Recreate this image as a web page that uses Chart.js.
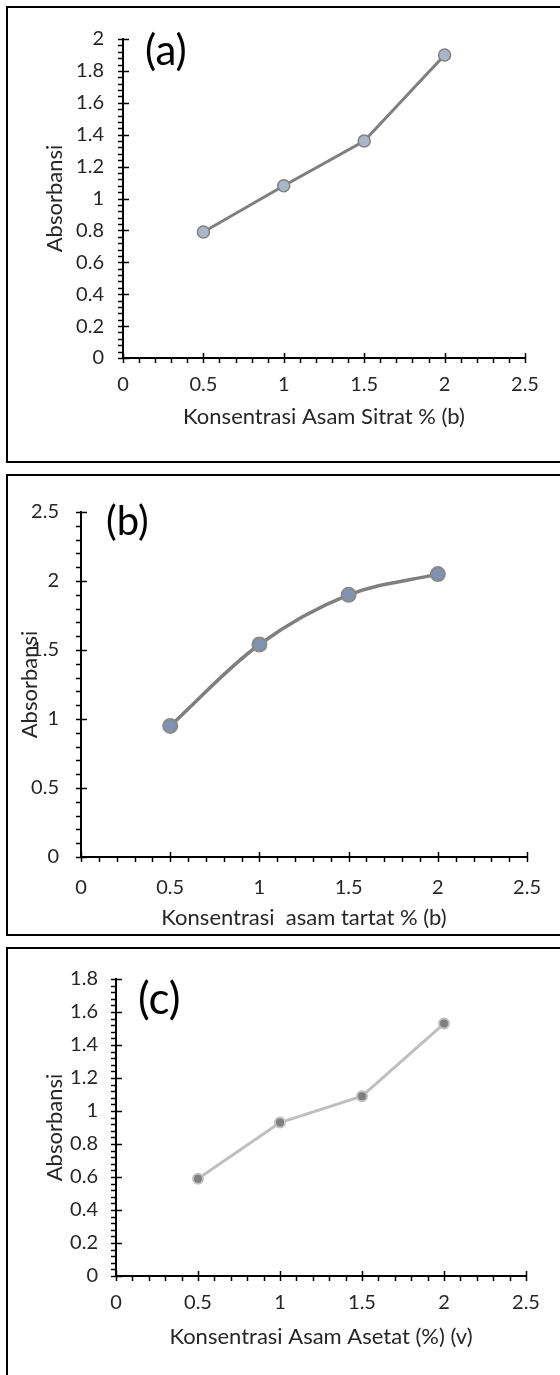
<!DOCTYPE html>
<html>
<head>
<meta charset="utf-8">
<script src="https://cdn.jsdelivr.net/npm/chart.js@4.4.1/dist/chart.umd.min.js"></script>
<style>
  html, body { margin: 0; padding: 0; background: #fff; }
  body { width: 560px; height: 1375px; position: relative; overflow: hidden; font-family: Lato, sans-serif; }
  .panel { position: absolute; left: 6px; width: 600px; border: 2px solid #000; box-sizing: border-box; }
  .plot { position: absolute; left: 0; width: 560px; }
  .tag { position: absolute; color: #000; line-height: 1; font-family: Lato, sans-serif; }
</style>
</head>
<body>

<div class="panel" style="top:6px; height:457px;"></div>
<div class="panel" style="top:474px; height:462px;"></div>
<div class="panel" style="top:947px; height:500px;"></div>

<div class="plot" style="top:8px; height:454px;"><canvas id="chartA"></canvas></div>
<div class="plot" style="top:476px; height:458px;"><canvas id="chartB"></canvas></div>
<div class="plot" style="top:949px; height:426px;"><canvas id="chartC"></canvas></div>

<div class="tag" style="left:145px; top:28px; font-size:42px;">(a)</div>
<div class="tag" style="left:106px; top:500px; font-size:40px;">(b)</div>
<div class="tag" style="left:138px; top:975px; font-size:44px;">(c)</div>

<script>
// concentrations (%)
const concentrations = [0.5, 1, 1.5, 2];

// absorbance readings
const absSitrat = [0.79, 1.08, 1.36, 1.90];
const absTartat = [0.95, 1.54, 1.90, 2.05];
const absAsetat = [0.59, 0.93, 1.09, 1.53];

const xTitleSitrat = "Konsentrasi Asam Sitrat % (b)";
const xTitleTartat = "Konsentrasi  asam tartat % (b)";
const xTitleAsetat = "Konsentrasi Asam Asetat (%) (v)";
const yTitle = "Absorbansi";

const TEXT = "#262626";

// excel-like tick marks: majors cross the axis, minors sit outside
const axisTicks = {
  id: "axisTicks",
  afterDraw(chart, args, opts) {
    const { ctx } = chart;
    const xs = chart.scales.x, ys = chart.scales.y;
    const x0 = xs.getPixelForValue(xs.min);
    const y0 = ys.getPixelForValue(ys.min);
    ctx.save();
    ctx.strokeStyle = "#000";
    ctx.lineWidth = 1.5;
    const isMajor = (v, step) => Math.abs(v / step - Math.round(v / step)) < 1e-6;

    const nx = Math.round((xs.max - xs.min) / opts.xMinor);
    for (let i = 0; i <= nx; i++) {
      const v = xs.min + i * opts.xMinor;
      const px = Math.round(xs.getPixelForValue(v)) + 0.5;
      const major = isMajor(v, opts.xMajor);
      ctx.beginPath();
      ctx.moveTo(px, major ? y0 - 5 : y0);
      ctx.lineTo(px, y0 + 5);
      ctx.stroke();
    }
    const ny = Math.round((ys.max - ys.min) / opts.yMinor);
    for (let i = 0; i <= ny; i++) {
      const v = ys.min + i * opts.yMinor;
      const py = Math.round(ys.getPixelForValue(v)) + 0.5;
      const major = isMajor(v, opts.yMajor);
      ctx.beginPath();
      ctx.moveTo(x0 - 5, py);
      ctx.lineTo(major ? x0 + 6 : x0, py);
      ctx.stroke();
    }
    ctx.restore();
  }
};

function fmt(v) {
  return String(+v.toFixed(2));
}

function makeChart(id, values, cfg) {
  const ctx = document.getElementById(id).getContext("2d");
  return new Chart(ctx, {
    type: "line",
    data: {
      datasets: [{
        data: concentrations.map((c, i) => ({ x: c, y: values[i] })),
        borderColor: cfg.line,
        borderWidth: cfg.lineWidth,
        tension: cfg.tension,
        pointRadius: cfg.radius,
        pointBackgroundColor: cfg.fill,
        pointBorderColor: cfg.edge,
        pointBorderWidth: cfg.edgeWidth,
        fill: false,
        clip: false
      }]
    },
    options: {
      responsive: true,
      maintainAspectRatio: false,
      animation: false,
      layout: { padding: { left: 0, right: cfg.padRight, top: cfg.padTop, bottom: 0 } },
      plugins: {
        legend: { display: false },
        tooltip: { enabled: false },
        axisTicks: { xMinor: 0.1, xMajor: 0.5, yMinor: cfg.yMinor, yMajor: cfg.yStep }
      },
      scales: {
        x: {
          type: "linear",
          min: 0, max: 2.5,
          grid: { display: false, drawTicks: false },
          border: { display: true, color: "#000", width: 2 },
          ticks: { stepSize: 0.5, padding: cfg.xTickPad, color: TEXT, font: { family: "Lato", size: 20 }, callback: fmt },
          title: { display: true, text: cfg.xTitle, color: TEXT, font: { family: "Lato", size: 22 }, padding: { top: 0, bottom: cfg.xTitlePad } },
          afterFit: (s) => { s.height = cfg.xHeight; }
        },
        y: {
          min: 0, max: cfg.yMax,
          grid: { display: false, drawTicks: false },
          border: { display: true, color: "#000", width: 2 },
          ticks: { stepSize: cfg.yStep, padding: cfg.yTickPad, color: TEXT, font: { family: "Lato", size: 20 }, callback: fmt },
          title: { display: true, text: yTitle, color: TEXT, font: { family: "Lato", size: 22 }, padding: { top: cfg.yTitlePad, bottom: 0 } },
          afterFit: (s) => { s.width = cfg.yWidth; }
        }
      }
    },
    plugins: [axisTicks]
  });
}

makeChart("chartA", absSitrat, {
  xTitle: xTitleSitrat, yMax: 2, yStep: 0.2, yMinor: 0.04,
  line: "#7f7f7f", lineWidth: 3, tension: 0,
  fill: "#a9b6c9", edge: "#808080", edgeWidth: 1.5, radius: 6,
  padRight: 35, padTop: 25, yWidth: 123, xHeight: 104,
  xTickPad: 15, xTitlePad: 32, yTickPad: 19, yTitlePad: 42
});

makeChart("chartB", absTartat, {
  xTitle: xTitleTartat, yMax: 2.5, yStep: 0.5, yMinor: 0.1,
  line: "#7f7f7f", lineWidth: 3.5, tension: 0.35,
  fill: "#7f92b2", edge: "#8a8a8a", edgeWidth: 2, radius: 7,
  padRight: 25, padTop: 36, yWidth: 81, xHeight: 77,
  xTickPad: 19, xTitlePad: 3, yTickPad: 22, yTitlePad: 17
});

makeChart("chartC", absAsetat, {
  xTitle: xTitleAsetat, yMax: 1.8, yStep: 0.2, yMinor: 0.04,
  line: "#bfbfbf", lineWidth: 3, tension: 0,
  fill: "#7f7f7f", edge: "#c0c0c0", edgeWidth: 2, radius: 5,
  padRight: 34, padTop: 25, yWidth: 116, xHeight: 99,
  xTickPad: 15, xTitlePad: 25, yTickPad: 18, yTitlePad: 42
});
</script>
</body>
</html>
